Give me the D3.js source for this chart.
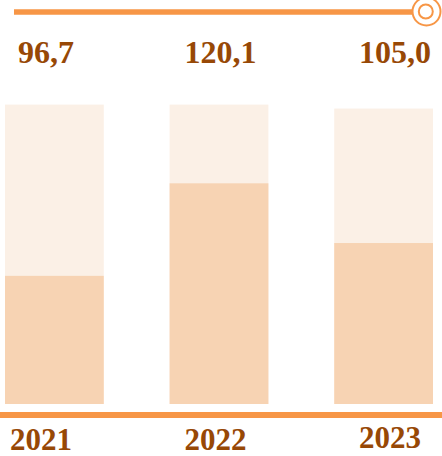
<!DOCTYPE html>
<html>
<head>
<meta charset="utf-8">
<script src="https://cdn.jsdelivr.net/npm/d3@7"></script>
<style>
  html, body { margin: 0; padding: 0; background: #ffffff; }
  svg { display: block; }
</style>
</head>
<body>
<script>
// ---- data ----
const years = ["2021", "2022", "2023"];
const values = [96.7, 120.1, 105.0];
const valueLabels = ["96,7", "120,1", "105,0"];
const trackMax = [140, 140, 139];

// ---- layout ----
const W = 442, H = 456;
const svg = d3.select("body").append("svg").attr("width", W).attr("height", H);

const ORANGE = "#F79646";
const BROWN = "#974806";
const FG = "#F7D3B3";
const BG = "#FBF0E6";
const FONT = "'Liberation Serif', 'Times New Roman', serif";

const x = d3.scaleBand().domain(years).range([5, 433]).paddingInner(0.4).paddingOuter(0);
const xl = d3.scalePoint().domain(years).range([44, 393]);
const y = d3.scaleLinear().domain([64.3, 140]).range([404, 104.6]);

// top line with circle marker
svg.append("line")
  .attr("x1", 14).attr("x2", 413).attr("y1", 12).attr("y2", 12)
  .attr("stroke", ORANGE).attr("stroke-width", 5.5);
svg.append("circle").attr("cx", 426.5).attr("cy", 11.5).attr("r", 14)
  .attr("fill", "#fff").attr("stroke", ORANGE).attr("stroke-width", 2);
svg.append("circle").attr("cx", 425.8).attr("cy", 11.5).attr("r", 7)
  .attr("fill", "none").attr("stroke", ORANGE).attr("stroke-width", 2);

// background track bars
svg.selectAll("rect.bg").data(years).enter().append("rect")
  .attr("class", "bg")
  .attr("x", d => x(d))
  .attr("width", x.bandwidth())
  .attr("y", (d, i) => y(trackMax[i]))
  .attr("height", (d, i) => y(y.domain()[0]) - y(trackMax[i]))
  .attr("fill", BG);

// value bars
svg.selectAll("rect.fg").data(years).enter().append("rect")
  .attr("class", "fg")
  .attr("x", d => x(d))
  .attr("width", x.bandwidth())
  .attr("y", (d, i) => y(values[i]))
  .attr("height", (d, i) => y(y.domain()[0]) - y(values[i]))
  .attr("fill", FG);

// bottom axis line
svg.append("line")
  .attr("x1", 0).attr("x2", W).attr("y1", 415).attr("y2", 415)
  .attr("stroke", ORANGE).attr("stroke-width", 6);

// value labels
svg.selectAll("text.val").data(years).enter().append("text")
  .attr("class", "val")
  .attr("x", d => xl(d) + 2)
  .attr("y", 63)
  .attr("text-anchor", "middle")
  .attr("font-family", FONT)
  .attr("font-weight", "bold")
  .attr("font-size", 32)
  .attr("fill", BROWN)
  .text((d, i) => valueLabels[i]);

// year labels
svg.selectAll("text.year").data(years).enter().append("text")
  .attr("class", "year")
  .attr("x", d => xl(d) - 3)
  .attr("y", (d, i) => i === 2 ? 448 : 450)
  .attr("text-anchor", "middle")
  .attr("font-family", FONT)
  .attr("font-weight", "bold")
  .attr("font-size", 31)
  .attr("fill", BROWN)
  .text(d => d);
</script>
</body>
</html>
